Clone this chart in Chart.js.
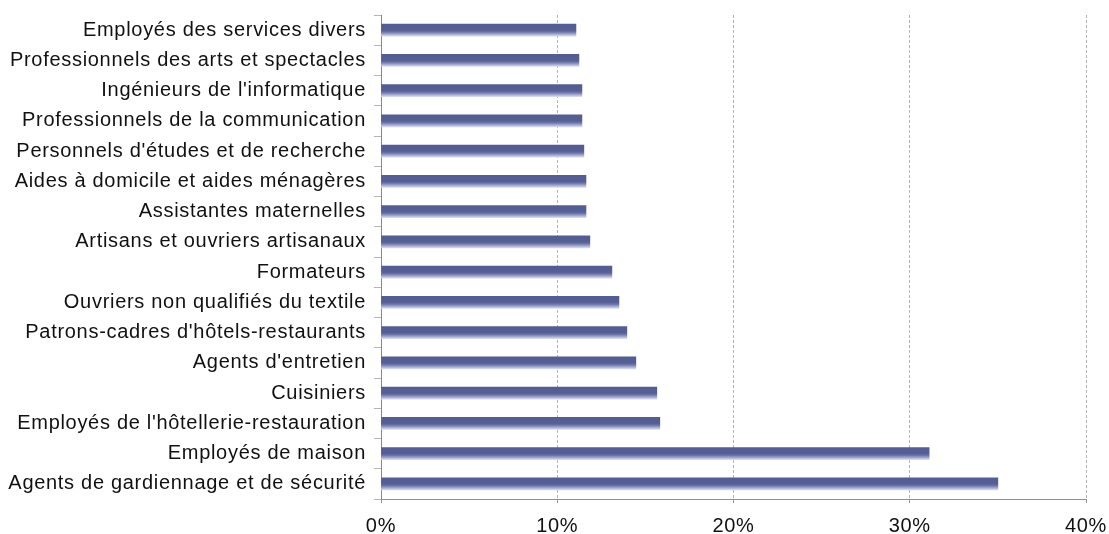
<!DOCTYPE html>
<html>
<head>
<meta charset="utf-8">
<script src="https://cdn.jsdelivr.net/npm/chart.js@4/dist/chart.umd.min.js"></script>
<style>
  html, body { margin: 0; padding: 0; background: #fff; }
  #wrap { width: 1109px; height: 534px; }
</style>
</head>
<body>
<div id="wrap"><canvas id="metiers"></canvas></div>
<script>
const metiers = [
  'Employés des services divers',
  'Professionnels des arts et spectacles',
  "Ingénieurs de l'informatique",
  'Professionnels de la communication',
  "Personnels d'études et de recherche",
  'Aides à domicile et aides ménagères',
  'Assistantes maternelles',
  'Artisans et ouvriers artisanaux',
  'Formateurs',
  'Ouvriers non qualifiés du textile',
  "Patrons-cadres d'hôtels-restaurants",
  "Agents d'entretien",
  'Cuisiniers',
  "Employés de l'hôtellerie-restauration",
  'Employés de maison',
  'Agents de gardiennage et de sécurité'
];
const parts = [11.06, 11.23, 11.4, 11.4, 11.51, 11.63, 11.63, 11.85, 13.1, 13.5, 13.95, 14.46, 15.65, 15.82, 31.1, 35.0];
const xTicks = [0, 10, 20, 30, 40];

const FONT = '"Liberation Sans", Arial, sans-serif';
const BAR_H = 12;

// vertical shading inside each bar: dark top, light bottom
function barFill(c) {
  const chart = c.chart;
  const y = chart.scales && chart.scales.y;
  if (!y || c.dataIndex === undefined) return '#565f94';
  const mid = y.getPixelForValue(c.dataIndex);
  if (!isFinite(mid)) return '#565f94';
  const g = chart.ctx.createLinearGradient(0, mid - BAR_H / 2, 0, mid + BAR_H / 2);
  g.addColorStop(0, '#545d92');
  g.addColorStop(0.5, '#565f94');
  g.addColorStop(0.65, '#6c74a7');
  g.addColorStop(0.8, '#979ec8');
  g.addColorStop(1, '#d6daf1');
  return g;
}

// slightly looser tracking for the labels
const tracking = {
  id: 'tracking',
  beforeDraw(chart) { chart.ctx.letterSpacing = '0.7px'; }
};

new Chart(document.getElementById('metiers'), {
  type: 'bar',
  data: {
    labels: metiers,
    datasets: [{
      data: parts,
      backgroundColor: barFill,
      borderWidth: 0,
      barThickness: BAR_H
    }]
  },
  plugins: [tracking],
  options: {
    indexAxis: 'y',
    responsive: true,
    maintainAspectRatio: false,
    animation: false,
    layout: { padding: { top: 15, right: 23 } },
    plugins: { legend: { display: false }, tooltip: { enabled: false } },
    scales: {
      x: {
        min: 0,
        max: 40,
        afterBuildTicks: s => { s.ticks = xTicks.map(v => ({ value: v })); },
        afterFit: s => {
          s.height = 35;
          s.paddingLeft = 0;
          s.paddingRight = 0;
        },
        ticks: {
          callback: v => v + '%',
          color: '#111',
          padding: 11,
          maxRotation: 0,
          font: { family: FONT, size: 20 }
        },
        grid: {
          color: '#b4b4b4',
          tickColor: '#909090',
          tickLength: 4,
          lineWidth: 1
        },
        border: { display: true, color: '#909090', dash: [3, 2] }
      },
      y: {
        afterFit: s => {
          s.width = 381;
          s.paddingTop = 0;
          s.paddingBottom = 0;
        },
        ticks: {
          color: '#111',
          padding: 8,
          autoSkip: false,
          font: { family: FONT, size: 20 }
        },
        grid: {
          offset: true,
          drawOnChartArea: false,
          color: '#b4b4b4',
          tickLength: 7
        },
        border: { display: true, color: '#888' }
      }
    }
  }
});
</script>
</body>
</html>
